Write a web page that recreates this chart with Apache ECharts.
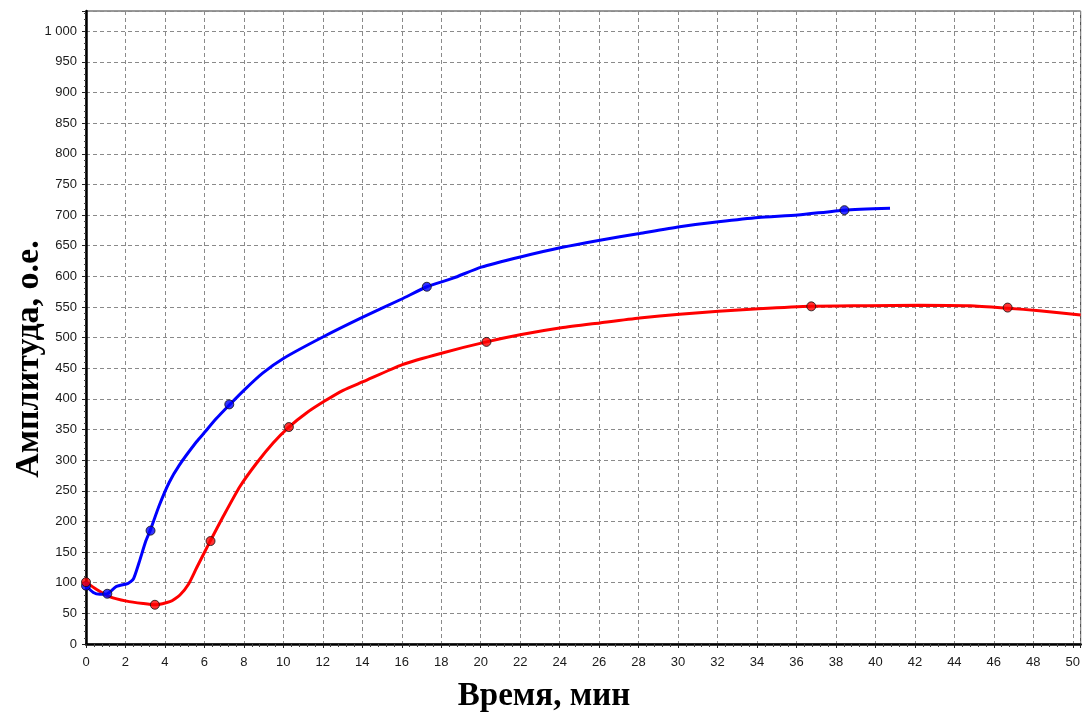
<!DOCTYPE html>
<html>
<head>
<meta charset="utf-8">
<script src="https://cdn.jsdelivr.net/npm/echarts@6/dist/echarts.min.js"></script>
<style>
  html, body { margin: 0; padding: 0; background: #fff; }
  #chart { width: 1083px; height: 713px; }
</style>
</head>
<body>
<div id="chart"></div>
<script>
// curve 1 (blue)
const blueTime = [0, 0.37, 0.7, 1.08, 1.55, 2.14, 2.4, 2.69, 3.03, 3.25, 3.71, 4.22, 4.73, 5.6, 6.0, 6.58, 7.26, 8.0, 8.95, 10.0, 12.0, 14.0, 16.0, 17.27, 18.6, 20.03, 22.06, 24.08, 26.04, 28.05, 30.08, 32.05, 34.08, 36.07, 38.43, 40.74];
const blueAmp = [95, 84, 81, 82, 94, 99, 106, 133, 168, 185, 226, 264, 292, 330, 345, 367, 390, 414, 442, 466, 501, 533, 563, 583, 597, 615, 632, 647, 659, 670, 681, 689, 696, 700, 708, 711];
const blueMarkTime = [0, 1.08, 3.27, 7.26, 17.27, 38.43];
const blueMarkAmp = [95, 82, 185, 391, 583, 708];

// curve 2 (red)
const redTime = [0, 0.54, 1.22, 2.06, 2.9, 3.49, 4.25, 4.76, 5.2, 5.6, 6.31, 6.95, 7.8, 8.64, 9.48, 10.28, 11.17, 12.07, 13.03, 14.04, 16.03, 18.06, 20.29, 22.06, 24.08, 26.04, 28.05, 30.08, 32.05, 34.08, 36.75, 39.6, 42.2, 44.8, 46.7, 48.3, 50.4];
const redAmp = [101, 89, 77, 70, 66, 64, 69, 80, 98, 124, 169, 208, 257, 295, 328, 354, 377, 396, 414, 428, 456, 475, 493, 505, 516, 524, 532, 538, 543, 547, 551, 552, 553, 552, 548, 544, 537];
const redMarkTime = [0, 3.49, 6.31, 10.28, 20.29, 36.75, 46.7];
const redMarkAmp = [101, 64, 168, 354, 493, 551, 549];

const xName = 'Время, мин';
const yName = 'Амплитуда, о.е.';

const zip = (xs, ys) => xs.map((x, i) => [x, ys[i]]);
const thousands = (v) => String(v).replace(/\B(?=(\d{3})+(?!\d))/g, ' ');

const chart = echarts.init(document.getElementById('chart'), null, { renderer: 'canvas' });

const gridLine = { show: true, lineStyle: { color: '#8a8a8a', width: 1, type: [4, 3] } };
const labelFont = { fontFamily: '"Liberation Sans", Arial, sans-serif', fontSize: 13, color: '#1a1a1a' };

const markerSeries = (name, data, color) => ({
    name,
    type: 'scatter',
    data,
    symbol: 'circle',
    symbolSize: 9,
    z: 5,
    itemStyle: { color, borderColor: '#111', borderWidth: 1 },
    silent: true,
});

const curveSeries = (name, data, color, z) => ({
    name,
    type: 'line',
    data,
    showSymbol: false,
    smooth: 0.2,
    lineStyle: { color, width: 3 },
    itemStyle: { color },
    z,
});

const option = {
    animation: false,
    backgroundColor: '#fff',
    grid: {
        left: 86,
        right: 2,
        top: 11,
        bottom: 69,
        show: true,
        borderColor: '#333',
        borderWidth: 1,
    },
    xAxis: {
        type: 'value',
        min: 0,
        max: 50.4,
        interval: 2,
        axisLine: { show: true, onZero: false, lineStyle: { color: '#000', width: 2.5 } },
        axisTick: { show: true, length: 4, lineStyle: { color: '#222' } },
        minorTick: { show: true, splitNumber: 5, length: 3, lineStyle: { color: '#444' } },
        splitLine: gridLine,
        axisLabel: {
            ...labelFont,
            margin: 12,
            showMaxLabel: false,
            formatter: (v) => (Math.abs(v % 2) < 1e-9 ? String(v) : ''),
        },
    },
    yAxis: {
        type: 'value',
        min: 0,
        max: 1033,
        interval: 50,
        axisLine: { show: true, onZero: false, lineStyle: { color: '#000', width: 2.5 } },
        axisTick: { show: true, length: 4, lineStyle: { color: '#222' } },
        minorTick: { show: true, splitNumber: 5, length: 2, lineStyle: { color: '#444' } },
        splitLine: gridLine,
        axisLabel: {
            ...labelFont,
            margin: 9,
            showMaxLabel: false,
            formatter: (v) => (v % 50 === 0 ? thousands(v) : ''),
        },
    },
    graphic: [
        {
            type: 'text',
            x: 29,
            y: 359,
            rotation: Math.PI / 2,
            style: {
                text: yName,
                font: 'bold 34px "Liberation Serif", "Times New Roman", serif',
                fill: '#000',
                align: 'center',
                verticalAlign: 'middle',
            },
        },
        {
            type: 'text',
            x: 544,
            y: 696,
            style: {
                text: xName,
                font: 'bold 33px "Liberation Serif", "Times New Roman", serif',
                fill: '#000',
                align: 'center',
                verticalAlign: 'middle',
            },
        },
    ],
    series: [
        curveSeries('blue', zip(blueTime, blueAmp), '#0000ff', 3),
        curveSeries('red', zip(redTime, redAmp), '#ff0000', 2),
        markerSeries('blue marks', zip(blueMarkTime, blueMarkAmp), '#0000ff'),
        markerSeries('red marks', zip(redMarkTime, redMarkAmp), '#ff0000'),
    ],
};

chart.setOption(option);
</script>
</body>
</html>
